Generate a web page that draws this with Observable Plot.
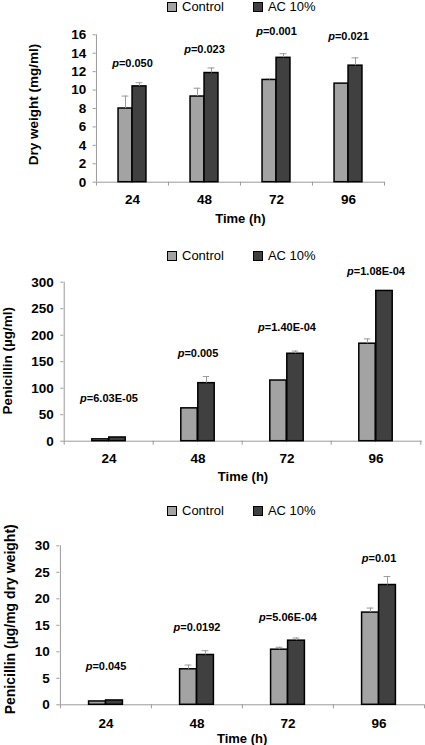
<!DOCTYPE html>
<html><head><meta charset="utf-8">
<script src="https://cdn.jsdelivr.net/npm/d3@7"></script>
<script src="https://cdn.jsdelivr.net/npm/@observablehq/plot@0.6"></script>
<style>
body{margin:0;background:#fff;font-family:Arial,"Liberation Sans",Helvetica,sans-serif;}
#root{position:relative;width:425px;height:745px;overflow:hidden;background:#fff}
.legend{position:absolute;left:167px;height:14px;font-size:13px;line-height:14px;display:flex;align-items:center;color:#000;white-space:nowrap}
.sw{width:8px;height:8px;border:1px solid #000;display:inline-block;margin-right:5px}
.item{display:flex;align-items:center}
.panel{position:absolute;left:0}
</style></head>
<body><div id="root"></div>
<script>
const times = ["24", "48", "72", "96"];
const seriesNames = ["Control", "AC 10%"];
const seriesColors = ["#a3a3a3", "#404040"];

// Panel 1: dry weight (mg/ml)
const dryControl = [8.0, 9.3, 11.1, 10.7];
const dryControlErr = [1.35, 0.9, 0.15, 0];
const dryAC = [10.4, 11.85, 13.5, 12.65];
const dryACErr = [0.4, 0.55, 0.45, 0.85];
const dryP = ["0.050", "0.023", "0.001", "0.021"];
const dryPY = [12.9, 14.4, 16.4, 15.8];
const dryTicks = [0, 2, 4, 6, 8, 10, 12, 14, 16];

// Panel 2: penicillin (µg/ml)
const penControl = [3.5, 62, 114.5, 184];
const penControlErr = [0, 0, 0, 9];
const penAC = [7, 109.5, 165, 283.5];
const penACErr = [0, 12.5, 5, 0];
const penP = ["6.03E-05", "0.005", "1.40E-04", "1.08E-04"];
const penPY = [80, 165, 215, 321];
const penTicks = [0, 50, 100, 150, 200, 250, 300];

// Panel 3: penicillin (µg/mg dry weight)
const spcControl = [0.63, 6.7, 10.4, 17.4];
const spcControlErr = [0, 0.8, 0.45, 0.85];
const spcAC = [0.82, 9.4, 12.1, 22.6];
const spcACErr = [0, 0.8, 0.5, 1.6];
const spcP = ["0.045", "0.0192", "5.06E-04", "0.01"];
const spcPY = [7.3, 14.6, 16.5, 27.7];
const spcTicks = [0, 5, 10, 15, 20, 25, 30];

const root = document.getElementById("root");
const FONT = 'Arial, "Liberation Sans", Helvetica, sans-serif';
const AXIS = "#9a9a9a";

function legend(top) {
  const d = document.createElement("div");
  d.className = "legend";
  d.style.top = top + "px";
  seriesNames.forEach((n, i) => {
    const it = document.createElement("span");
    it.className = "item";
    it.style.marginRight = i === 0 ? "29px" : "0";
    const sw = document.createElement("span");
    sw.className = "sw";
    sw.style.background = seriesColors[i];
    it.appendChild(sw);
    it.appendChild(document.createTextNode(n));
    d.appendChild(it);
  });
  root.appendChild(d);
}

function panel(cfg) {
  const width = 425;
  const band = (width - cfg.ml - cfg.mr) / times.length;
  const bw = cfg.barW;
  const ctrl = times.map((t, i) => ({time: t, value: cfg.control[i], err: cfg.controlErr[i]}));
  const ac = times.map((t, i) => ({time: t, value: cfg.ac[i], err: cfg.acErr[i]}));
  const pl = times.map((t, i) => ({time: t, y: cfg.py[i], label: "p=" + cfg.p[i]}));
  const ymax = cfg.ticks[cfg.ticks.length - 1];
  const errStyle = {stroke: AXIS, strokeWidth: 1};
  const svg = Plot.plot({
    width, height: cfg.height,
    marginLeft: cfg.ml, marginRight: cfg.mr, marginTop: cfg.mt, marginBottom: cfg.mb,
    style: {fontFamily: FONT, fontSize: "13.5px", fontWeight: "bold", color: "#000", background: "transparent", overflow: "visible"},
    x: {domain: times, padding: 0, axis: null},
    y: {domain: [0, ymax], axis: null},
    marks: [
      Plot.axisY({ticks: cfg.ticks, tickSize: 3, tickPadding: 7, stroke: AXIS, tickFormat: d => String(d), label: null, fontSize: 13.5, fontWeight: "bold"}),
      Plot.ruleX([times[0]], {x: d => d, dx: -band / 2, y1: 0, y2: ymax, stroke: AXIS}),
      Plot.ruleY([0], {stroke: AXIS}),
      Plot.ruleX(times, {x: d => d, dx: -band / 2, y1: 0, y2: 0, insetTop: 4, stroke: AXIS}),
      Plot.ruleX([times[times.length - 1]], {x: d => d, dx: band / 2, y1: 0, y2: 0, insetTop: 4, stroke: AXIS}),
      Plot.barY(ctrl, {x: "time", y: "value", fill: seriesColors[0], stroke: "#000", strokeWidth: 1.5, insetLeft: band / 2 - bw, insetRight: band / 2}),
      Plot.barY(ac, {x: "time", y: "value", fill: seriesColors[1], stroke: "#000", strokeWidth: 1.5, insetLeft: band / 2, insetRight: band / 2 - bw}),
      Plot.ruleX(ctrl.filter(d => d.err > 0), {x: "time", y1: "value", y2: d => d.value + d.err, dx: -bw / 2, ...errStyle}),
      Plot.tickY(ctrl.filter(d => d.err > 0), {x: "time", y: d => d.value + d.err, insetLeft: band / 2 - bw / 2 - 3.5, insetRight: band / 2 + bw / 2 - 3.5, ...errStyle}),
      Plot.ruleX(ac.filter(d => d.err > 0), {x: "time", y1: "value", y2: d => d.value + d.err, dx: bw / 2, ...errStyle}),
      Plot.tickY(ac.filter(d => d.err > 0), {x: "time", y: d => d.value + d.err, insetLeft: band / 2 + bw / 2 - 3.5, insetRight: band / 2 - bw / 2 - 3.5, ...errStyle}),
      Plot.text(pl, {x: "time", y: "y", text: "label", fontSize: 11, fontWeight: "bold", fill: "#000", textAnchor: "middle", lineAnchor: "middle"}),
      Plot.text(times, {x: d => d, frameAnchor: "bottom", dy: cfg.tickDy, text: d => d, fontSize: 13.5, fontWeight: "bold", lineAnchor: "middle", fill: "#000"}),
      Plot.text(["Time (h)"], {frameAnchor: "bottom", dy: cfg.titleDy, text: d => d, fontSize: 13, fontWeight: "bold", lineAnchor: "middle", fill: "#000"}),
      Plot.text([cfg.ylabel], {frameAnchor: "left", rotate: -90, dx: cfg.labDx, dy: cfg.labDy, text: d => d, fontSize: cfg.labSize, fontWeight: "bold", textAnchor: "middle", lineAnchor: "middle", fill: "#000"})
    ]
  });
  d3.select(svg).selectAll("text").filter(function () { return this.textContent.startsWith("p="); })
    .each(function () {
      const rest = this.textContent.slice(1);
      const s = d3.select(this);
      s.text(null);
      s.append("tspan").attr("font-style", "italic").text("p");
      s.append("tspan").text(rest);
    });
  const wrap = document.createElement("div");
  wrap.className = "panel";
  wrap.style.top = cfg.top + "px";
  wrap.appendChild(svg);
  root.appendChild(wrap);
}

legend(0);
panel({top: 20, height: 210, ml: 95.7, mr: 41, mt: 14.3, mb: 48.3, barW: 14,
  control: dryControl, controlErr: dryControlErr, ac: dryAC, acErr: dryACErr, p: dryP, py: dryPY, ticks: dryTicks,
  ylabel: "Dry weight (mg/ml)", labDx: -62.7, labDy: -4, labSize: 13.5, tickDy: 17.3, titleDy: 36.3});

legend(249);
panel({top: 262, height: 224, ml: 63.3, mr: 3.3, mt: 19.7, mb: 45.3, barW: 17,
  control: penControl, controlErr: penControlErr, ac: penAC, acErr: penACErr, p: penP, py: penPY, ticks: penTicks,
  ylabel: "Penicillin (µg/ml)", labDx: -56.3, labDy: -1, labSize: 13.5, tickDy: 17.3, titleDy: 35.3});

legend(504);
panel({top: 520, height: 225, ml: 59.3, mr: 1, mt: 25.3, mb: 40.7, barW: 17,
  control: spcControl, controlErr: spcControlErr, ac: spcAC, acErr: spcACErr, p: spcP, py: spcPY, ticks: spcTicks,
  ylabel: "Penicillin (µg/mg dry weight)", labDx: -49.3, labDy: -6, labSize: 14, tickDy: 18.4, titleDy: 33.7});
</script></body></html>
